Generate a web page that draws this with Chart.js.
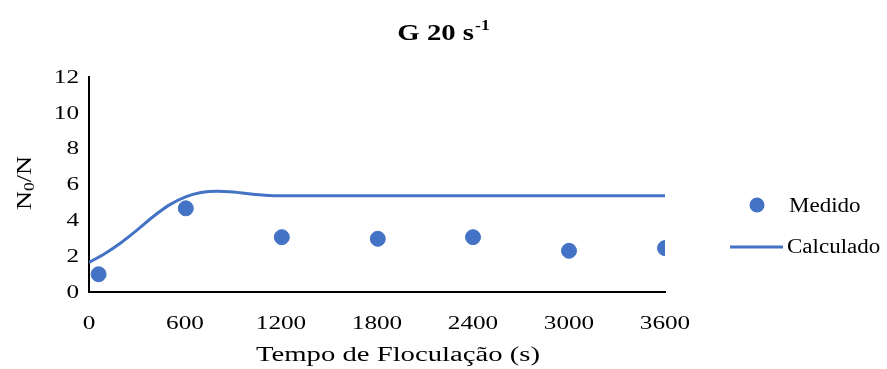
<!DOCTYPE html>
<html>
<head>
<meta charset="utf-8">
<script src="https://cdn.jsdelivr.net/npm/chart.js@4/dist/chart.umd.min.js"></script>
<style>
  html, body { margin: 0; padding: 0; background: #fff; }
  #wrap { width: 887px; height: 369px; position: relative; }
</style>
</head>
<body>
<div id="wrap"><canvas id="chart"></canvas></div>
<script>
var medidoTempo = [60, 605, 1205, 1805, 2400, 3000, 3600];
var medidoValor = [0.99, 4.67, 3.06, 2.97, 3.06, 2.3, 2.45];

var calcTempo = [0, 100, 200, 300, 400, 500, 600, 700, 800, 900, 1000, 1100, 1200, 1800, 2400, 3000, 3600];
var calcValor = [1.65, 2.15, 2.75, 3.45, 4.2, 4.85, 5.3, 5.55, 5.62, 5.58, 5.48, 5.4, 5.37, 5.37, 5.37, 5.37, 5.37];

var xTicks = [0, 600, 1200, 1800, 2400, 3000, 3600];
var yTicks = [0, 2, 4, 6, 8, 10, 12];

var azul = '#4472C4';
var serif = "'Liberation Serif', 'Times New Roman', serif";

function toXY(xs, ys){
  var out = [];
  for(var i = 0; i < xs.length; i++) out.push({ x: xs[i], y: ys[i] });
  return out;
}

// the reference text is drawn wide, so stretch it horizontally
function wideText(ctx, txt, x, y, sx, align){
  var w = ctx.measureText(txt).width * sx;
  var left = x;
  if(align === 'center') left = x - w / 2;
  else if(align === 'right') left = x - w;
  ctx.save();
  ctx.translate(left, y);
  ctx.scale(sx, 1);
  ctx.textAlign = 'left';
  ctx.fillText(txt, 0, 0);
  ctx.restore();
  return w;
}

var extras = {
  id: 'extras',
  afterDraw: function(chart){
    var ctx = chart.ctx;
    var xs = chart.scales.x, ys = chart.scales.y;
    ctx.save();
    ctx.fillStyle = '#000';
    ctx.textBaseline = 'middle';

    // tick labels
    ctx.font = '18px ' + serif;
    for(var i = 0; i < xTicks.length; i++){
      wideText(ctx, String(xTicks[i]), xs.getPixelForValue(xTicks[i]), 324, 1.4, 'center');
    }
    for(var j = 0; j < yTicks.length; j++){
      wideText(ctx, String(yTicks[j]), 79, ys.getPixelForValue(yTicks[j]) + 1, 1.4, 'right');
    }

    // x title
    ctx.textBaseline = 'alphabetic';
    ctx.font = '20.5px ' + serif;
    wideText(ctx, 'Tempo de Floculação (s)', 398, 361, 1.4, 'center');

    // title "G 20 s-1"
    ctx.font = 'bold 23px ' + serif;
    var mainW = ctx.measureText('G 20 s').width * 1.25;
    ctx.font = 'bold 14px ' + serif;
    var supW = ctx.measureText('-1').width * 1.25;
    var tx = 443 - (mainW + supW) / 2;
    ctx.font = 'bold 23px ' + serif;
    wideText(ctx, 'G 20 s', tx, 40, 1.25, 'left');
    ctx.font = 'bold 14px ' + serif;
    wideText(ctx, '-1', tx + mainW + 1, 30, 1.25, 'left');

    // y title "N0/N", rotated
    ctx.translate(31, 183);
    ctx.rotate(-Math.PI / 2);
    ctx.font = '21px ' + serif;
    var wa = ctx.measureText('N').width * 1.25, wc = ctx.measureText('/N').width * 1.25;
    ctx.font = '14px ' + serif;
    var wb = ctx.measureText('0').width * 1.25;
    var sx = -(wa + wb + wc) / 2;
    ctx.font = '21px ' + serif;
    wideText(ctx, 'N', sx, 0, 1.25, 'left');
    ctx.font = '14px ' + serif;
    wideText(ctx, '0', sx + wa, 3, 1.25, 'left');
    ctx.font = '21px ' + serif;
    wideText(ctx, '/N', sx + wa + wb, 0, 1.25, 'left');
    ctx.setTransform(1, 0, 0, 1, 0, 0);

    // legend
    var ds = chart.data.datasets;
    ctx.font = '20px ' + serif;
    ctx.textBaseline = 'middle';
    ctx.fillStyle = ds[0].backgroundColor;
    ctx.beginPath();
    ctx.arc(757, 205, 7.5, 0, Math.PI * 2);
    ctx.fill();
    ctx.fillStyle = '#000';
    wideText(ctx, ds[0].label, 789, 207, 1.15, 'left');

    ctx.strokeStyle = ds[1].borderColor;
    ctx.lineWidth = 3;
    ctx.beginPath();
    ctx.moveTo(730, 247);
    ctx.lineTo(783, 247);
    ctx.stroke();
    wideText(ctx, ds[1].label, 787, 248, 1.15, 'left');
    ctx.restore();
  }
};

new Chart(document.getElementById('chart'), {
  type: 'scatter',
  data: {
    datasets: [
      {
        label: 'Medido',
        data: toXY(medidoTempo, medidoValor),
        backgroundColor: azul, borderColor: azul,
        pointRadius: 7.5, pointHoverRadius: 7.5, showLine: false
      },
      {
        label: 'Calculado',
        data: toXY(calcTempo, calcValor),
        borderColor: azul, backgroundColor: azul,
        borderWidth: 3, pointRadius: 0, showLine: true,
        cubicInterpolationMode: 'monotone'
      }
    ]
  },
  options: {
    responsive: true, maintainAspectRatio: false, animation: false,
    layout: { padding: { left: 0, right: 222, top: 77, bottom: 0 } },
    scales: {
      x: {
        type: 'linear', min: 0, max: 3600,
        afterBuildTicks: function(ax){ ax.ticks = xTicks.map(function(v){ return { value: v } }) },
        afterFit: function(ax){ ax.height = 77 },
        grid: { display: false, drawTicks: true, tickLength: 7, color: '#000' },
        border: { color: '#000', width: 2 },
        ticks: { display: false }
      },
      y: {
        min: 0, max: 12,
        afterBuildTicks: function(ax){ ax.ticks = yTicks.map(function(v){ return { value: v } }) },
        afterFit: function(ax){ ax.width = 89 },
        grid: { display: false, drawTicks: true, tickLength: 7, color: '#000' },
        border: { color: '#000', width: 2 },
        ticks: { display: false }
      }
    },
    plugins: {
      legend: { display: false },
      tooltip: { enabled: false }
    }
  },
  plugins: [extras]
});
</script>
</body>
</html>
